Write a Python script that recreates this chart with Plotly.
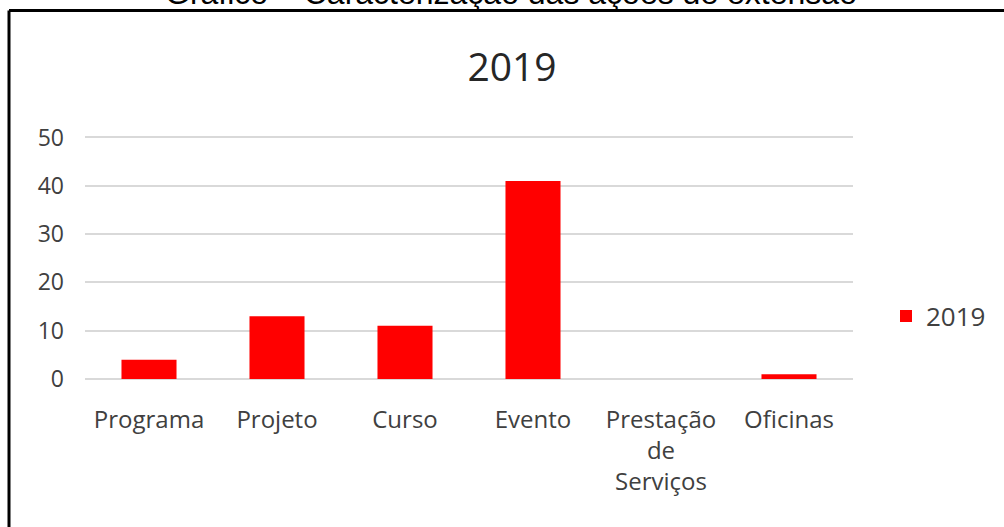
import plotly.graph_objects as go

categories = ["Programa", "Projeto", "Curso", "Evento", "Prestação de Serviços", "Oficinas"]
tick_labels = ["Programa", "Projeto", "Curso", "Evento", "Prestação<br>de<br>Serviços", "Oficinas"]
values_2019 = [4, 13, 11, 41, 0, 1]
series_name = "2019"
y_ticks = [0, 10, 20, 30, 40, 50]

W, H = 1004, 527
L, R, T, B = 85, 151, 136, 148
pw, ph = W - L - R, H - T - B

def px_x(p):
    return (p - L) / pw

def px_y(p):
    return (H - B - p) / ph

FONT = "Open Sans"
GREY = "#595959"

fig = go.Figure()
fig.add_trace(go.Bar(
    x=categories, y=values_2019, name=series_name,
    marker=dict(color="#ff0000", line=dict(width=0)),
    showlegend=True,
))

fig.update_layout(
    width=W, height=H,
    margin=dict(l=L, r=R, t=T, b=B, autoexpand=False),
    paper_bgcolor="white", plot_bgcolor="white",
    bargap=0.57,
    font=dict(family=FONT, size=22, color=GREY),
    title=dict(text="2019", x=512 / W, xref="container", xanchor="center",
               y=1 - 67 / H, yref="container", yanchor="middle",
               font=dict(family=FONT, size=39, color="#262626")),
    showlegend=True,
    legend=dict(x=px_x(886), y=px_y(316), xanchor="left", yanchor="middle",
                font=dict(family=FONT, size=26, color="#404040"),
                bgcolor="rgba(0,0,0,0)"),
    xaxis=dict(
        tickmode="array", tickvals=categories, ticktext=tick_labels,
        showgrid=False, showline=False, zeroline=False, ticks="",
        ticklabelstandoff=24,
        tickfont=dict(family=FONT, size=24, color="#404040"),
    ),
    yaxis=dict(
        range=[0, 50.3], tickmode="array", tickvals=y_ticks,
        showgrid=True, gridcolor="#d9d9d9", gridwidth=1.5,
        zeroline=True, zerolinecolor="#d9d9d9", zerolinewidth=1.5,
        showline=False, ticks="", ticklabelstandoff=20,
        tickfont=dict(family=FONT, size=23, color="#404040"),
    ),
)

# top caption, partially cut by the page top
fig.add_annotation(
    text="Gráfico – Caracterização das ações de extensão",
    xref="paper", yref="paper", x=px_x(511), y=px_y(-7),
    xanchor="center", yanchor="middle", showarrow=False,
    font=dict(family="Liberation Sans", size=32, color="black"),
)

# frame lines (top and left)
fig.add_shape(type="line", xref="paper", yref="paper",
              x0=px_x(9), x1=px_x(1010), y0=px_y(10.5), y1=px_y(10.5),
              line=dict(color="black", width=3))
fig.add_shape(type="line", xref="paper", yref="paper",
              x0=px_x(9), x1=px_x(9), y0=px_y(10.5), y1=px_y(540),
              line=dict(color="black", width=3))

fig.write_html("out.html", config={"displayModeBar": False},
               post_script="document.body.style.margin='0';document.body.style.overflow='hidden';")
